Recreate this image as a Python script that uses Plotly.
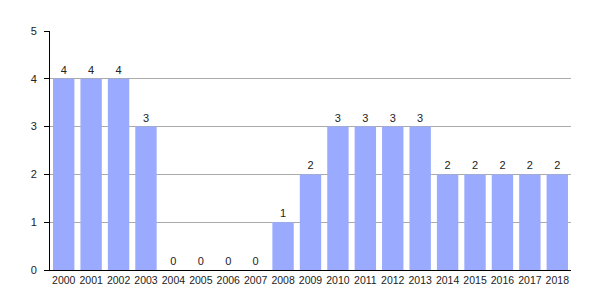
import plotly.graph_objects as go

years = [str(y) for y in range(2000, 2019)]
values = [4, 4, 4, 3, 0, 0, 0, 0, 1, 2, 3, 3, 3, 3, 2, 2, 2, 2, 2]

fig = go.Figure(go.Bar(
    x=years, y=values,
    marker=dict(color="#9aabff", line=dict(width=0)),
    text=[str(v) for v in values], textposition="outside",
    textfont=dict(size=11, color="#222222"),
    cliponaxis=False,
))
fig.update_layout(
    width=600, height=300,
    margin=dict(l=50, r=29, t=31, b=30),
    plot_bgcolor="white", paper_bgcolor="white",
    font=dict(family="Liberation Sans, Arial, sans-serif", color="#222222"),
    bargap=0.22, showlegend=False,
)
fig.update_xaxes(type="category", showline=True, linecolor="black", linewidth=1,
                 tickfont=dict(size=10.5), ticks="", showgrid=False)
fig.update_yaxes(range=[0, 5], dtick=1, showline=True, linecolor="black", linewidth=1,
                 ticks="outside", ticklen=5, tickcolor="black", ticklabelstandoff=5,
                 showgrid=True, gridcolor="#aaaaaa", gridwidth=1,
                 tickfont=dict(size=11), zeroline=False)
fig.write_html("out.html")
